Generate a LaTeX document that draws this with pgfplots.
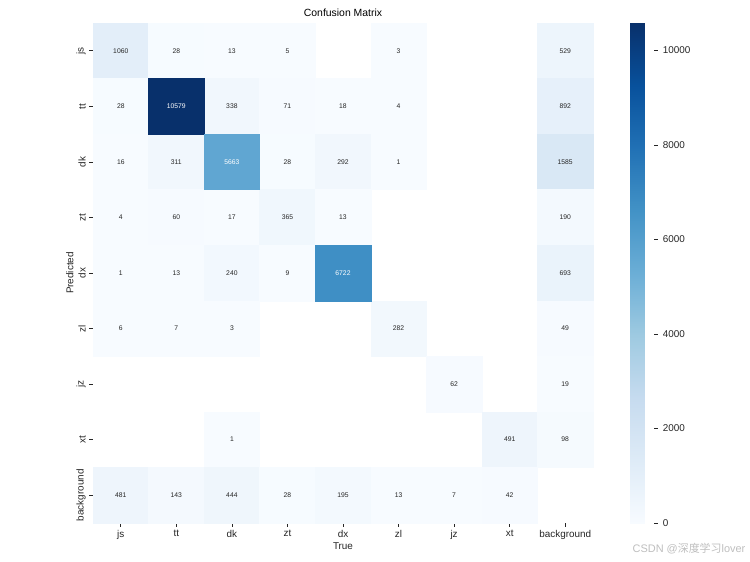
\documentclass[border=0pt]{standalone}
\usepackage{pgfplots}
\pgfplotsset{compat=1.18}
\usepackage{pgfplotstable}
\usepackage{fontspec}
\setmainfont{Liberation Sans}
\newfontfamily\cjk{Noto Sans CJK SC}
\definecolor{txt}{HTML}{262626}
\pgfplotstableread{
x y v
0 0 1060
1 0 28
2 0 13
3 0 5
5 0 3
8 0 529
0 1 28
2 1 338
3 1 71
4 1 18
5 1 4
8 1 892
0 2 16
1 2 311
3 2 28
4 2 292
5 2 1
8 2 1585
0 3 4
1 3 60
2 3 17
3 3 365
4 3 13
8 3 190
0 4 1
1 4 13
2 4 240
3 4 9
8 4 693
0 5 6
1 5 7
2 5 3
5 5 282
8 5 49
6 6 62
8 6 19
2 7 1
7 7 491
8 7 98
0 8 481
1 8 143
2 8 444
3 8 28
4 8 195
5 8 13
6 8 7
7 8 42
}\light
\pgfplotstableread{
x y v
1 1 10579
2 2 5663
4 4 6722
}\dark
\begin{document}
\begin{tikzpicture}
\useasboundingbox (0,0) rectangle (720pt,539.52pt);
\fill[white] (0,0) rectangle (720pt,539.52pt);
\begin{axis}[
  at={(89.28pt,37.44pt)}, anchor=south west,
  width=480pt, height=480pt, scale only axis,
  xmin=-0.5, xmax=8.5, ymin=-0.5, ymax=8.5, y dir=reverse,
  xtick={0,...,8}, ytick={0,...,8},
  xticklabels={js,tt,dk,zt,dx,zl,jz,xt,background},
  yticklabels={js,tt,dk,zt,dx,zl,jz,xt,background},
  tick pos=left, tick align=outside, major tick length=3.5pt,
  tick style={txt, line width=0.6pt},
  axis line style={draw=none},
  ticklabel style={font=\fontsize{9.5}{11}\selectfont, text=txt},
  yticklabel style={rotate=90, anchor=south, font=\fontsize{9.5}{11}\selectfont},
  xlabel={True}, ylabel={Predicted},
  label style={font=\fontsize{9.5}{11}\selectfont, text=txt},
  xlabel style={yshift=4pt},
  ylabel style={yshift=-4pt},
  title={Confusion Matrix},
  title style={font=\fontsize{10}{12}\selectfont, text=black, yshift=-3pt},
  /pgf/number format/assume math mode=true,
  /pgf/number format/1000 sep={},
  colormap={blues}{rgb255=(247,251,255) rgb255=(222,235,247) rgb255=(198,219,239) rgb255=(158,202,225) rgb255=(107,174,214) rgb255=(66,146,198) rgb255=(33,113,181) rgb255=(8,81,156) rgb255=(8,48,107)},
  point meta min=0, point meta max=10579,
  colorbar,
  colorbar style={
    at={(parent axis.north east)}, anchor=north west, xshift=27pt,
    scale only axis, width=23pt, height=480pt,
    ytick={0,2000,4000,6000,8000,10000},
    scaled y ticks=false,
    ytick pos=right, yticklabel pos=right,
    tick align=outside, major tick length=3.5pt,
    tick style={txt, line width=0.6pt},
    axis line style={draw=none},
    yticklabel style={font=\fontsize{9.5}{11}\selectfont, text=txt, xshift=1.5pt},
    /pgf/number format/assume math mode=true,
    /pgf/number format/1000 sep={},
    /pgf/number format/fixed,
  },
]
% coloured cells
\addplot[scatter, only marks, mark=square*, mark size=26.667pt,
  point meta=explicit,
  scatter/use mapped color={draw=mapped color, fill=mapped color},
] table[x=x, y=y, meta=v] {\light};
\addplot[scatter, only marks, mark=square*, mark size=26.667pt,
  point meta=explicit,
  scatter/use mapped color={draw=mapped color, fill=mapped color},
] table[x=x, y=y, meta=v] {\dark};
% annotations
\addplot[only marks, mark=none, point meta=explicit symbolic,
  nodes near coords,
  every node near coord/.append style={anchor=center, font=\fontsize{6.5}{7}\selectfont, text=txt},
] table[x=x, y=y, meta=v] {\light};
\addplot[only marks, mark=none, point meta=explicit symbolic,
  nodes near coords,
  every node near coord/.append style={anchor=center, font=\fontsize{6.5}{7}\selectfont, text=white},
] table[x=x, y=y, meta=v] {\dark};
\end{axis}
\node[anchor=east, text=black!25, font=\fontsize{10.5}{12}\selectfont] at (719pt,12.5pt) {CSDN @{\cjk 深度学习}lover};
\end{tikzpicture}
\end{document}
